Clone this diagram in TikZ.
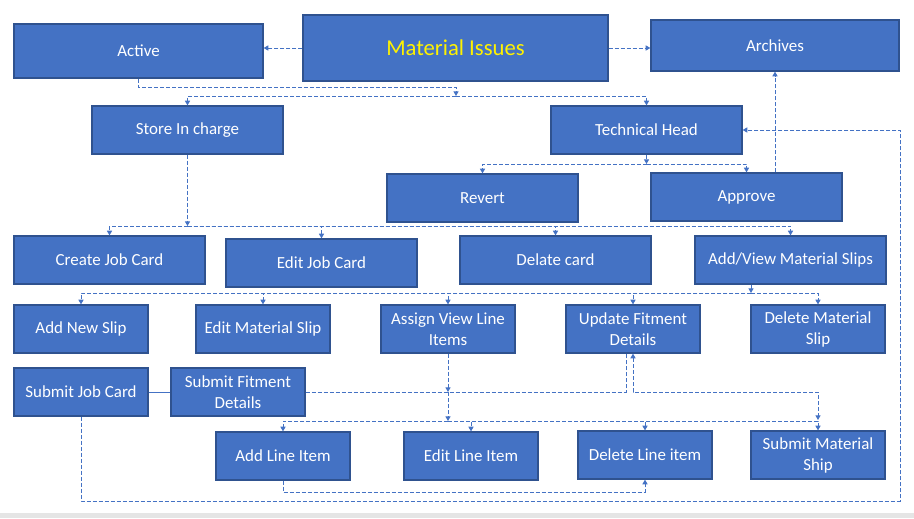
\documentclass[tikz,border=0pt]{standalone}
\usepackage{fontspec}
\setmainfont{Carlito}
\usetikzlibrary{arrows.meta,calc}
\definecolor{boxc}{HTML}{4472C4}
\definecolor{bordc}{HTML}{2F528F}
\definecolor{linec}{HTML}{4472C4}
\begin{document}
\begin{tikzpicture}[x=0.75pt,y=-0.75pt,
  box/.style={draw=bordc, fill=boxc, text=white, line width=0.9pt, inner sep=0pt, align=center,
    font=\fontsize{12.7}{15.75}\selectfont},
  wide/.style={box, minimum width=143.25pt, minimum height=36pt},
  small/.style={box, minimum width=100.5pt, minimum height=36pt},
  conn/.style={draw=linec, line width=0.75pt, dash pattern=on 3pt off 1.5pt},
  arr/.style={conn, -{Triangle[length=3.5pt,width=3.8pt]}},
  darr/.style={conn, {Triangle[length=3.5pt,width=3.8pt]}-{Triangle[length=3.5pt,width=3.8pt]}}]
\useasboundingbox (0,0) rectangle (914,518);
\fill[black!10] (0,513) rectangle (914,518);
% boxes
\node[box, minimum width=228.75pt, minimum height=49.5pt, text=yellow, font=\fontsize{17}{20}\selectfont] (mi) at (455.5,48) {Material Issues};
\node[box, minimum width=186.75pt, minimum height=40.5pt] (active) at (138.5,51) {Active};
\node[box, minimum width=186pt, minimum height=38.25pt] (archives) at (775,45.5) {Archives};
\node[wide] (store) at (187.5,130) {Store In charge};
\node[wide] (tech) at (646.5,130) {Technical Head};
\node[wide] (revert) at (482.5,198) {Revert};
\node[wide] (approve) at (746.5,197) {Approve};
\node[wide] (create) at (109.5,260) {Create Job Card};
\node[wide] (editjc) at (321.5,263) {Edit Job Card};
\node[wide] (delate) at (555.5,260) {Delate card};
\node[wide] (addview) at (790.5,260) {Add/View Material Slips};
\node[small] (addslip) at (81,329) {Add New Slip};
\node[small] (editslip) at (263,329) {Edit Material Slip};
\node[small] (assign) at (448,329) {Assign View Line\\Items};
\node[small] (update) at (633,329) {Update Fitment\\Details};
\node[small] (delslip) at (818,329) {Delete Material\\Slip};
\node[small] (submitjc) at (81,392) {Submit Job Card};
\node[small] (submitfit) at (238,392) {Submit Fitment\\Details};
\node[small] (addline) at (283,456) {Add Line Item};
\node[small] (editline) at (471,456) {Edit Line Item};
\node[small] (delline) at (645,455) {Delete Line item};
\node[small] (submitms) at (818,455) {Submit Material\\Ship};
% junction coordinates
\coordinate (a1) at (456,87);
\coordinate (j1) at (456,96);
\coordinate (j2) at (187.5,226);
\coordinate (j3) at (646.5,164);
\coordinate (j4) at (751,293);
\coordinate (j5) at (448,392);
\coordinate (j6) at (448,421);
\coordinate (c1) at (900,501);
\coordinate (c2) at (818,392);
\coordinate (c3) at (818,420);
\coordinate (c4) at (283,492);
\coordinate (u1) at (626,353);
% connectors
\draw[arr] (mi.west) -- (mi.west -| active.east);
\draw[arr] (mi.east) -- (mi.east -| archives.west);
\draw[arr] (active.south) |- (a1) -- (j1);
\draw[arr] (j1) -| (store.north);
\draw[arr] (j1) -| (tech.north);
\draw[arr] (store.south) -- (j2);
\draw[arr] (j2) -| (create.north);
\draw[arr] (j2) -| (editjc.north);
\draw[arr] (j2) -| (delate.north);
\draw[arr] (j2) -| (addview.north);
\draw[arr] (tech.south) -- (j3);
\draw[arr] (j3) -| (revert.north);
\draw[arr] (j3) -| (approve.north);
\draw[arr] (archives.south |- approve.north) -- (archives.south);
\draw[arr] (submitjc.south) |- (c1) |- (tech.east);
\draw[arr] (j4 |- addview.south) -- (j4);
\draw[arr] (j4) -| (addslip.north);
\draw[arr] (j4) -| (editslip.north);
\draw[arr] (j4) -| (assign.north);
\draw[arr] (j4) -| (update.north);
\draw[arr] (j4) -| (delslip.north);
\draw[draw=linec, line width=0.75pt] (submitjc.east) -- (submitfit.west);
\draw[conn] (submitfit.east) -| (u1);
\draw[arr] (assign.south) -- (j5);
\draw[arr] (j5) -- (j6);
\draw[arr] (j6) -| (addline.north);
\draw[arr] (j6) -| (editline.north);
\draw[arr] (j6) -| (delline.north);
\draw[arr] (j6) -| (submitms.north);
\draw[darr] (update.south) |- (c2) -- (c3);
\draw[arr] (addline.south) -- (c4) -| (delline.south);
\end{tikzpicture}
\end{document}
